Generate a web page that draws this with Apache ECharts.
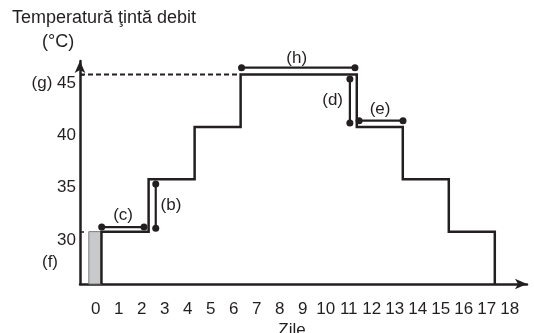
<!DOCTYPE html>
<html>
<head>
<meta charset="utf-8">
<script src="https://cdn.jsdelivr.net/npm/echarts@6/dist/echarts.min.js"></script>
<style>html,body{margin:0;padding:0;background:#fff}#c{width:534px;height:333px}</style>
</head>
<body>
<div id="c"></div>
<script>
// Data
const dayTicks = [0,1,2,3,4,5,6,7,8,9,10,11,12,13,14,15,16,17,18];
const tempTicks = [30, 35, 40, 45];
const stepDays = [0.25, 2.3, 4.3, 6.3, 11.35, 13.35, 15.35, 17.35];
const stepLevels = [30, 35, 40, 45, 40, 35, 30, 25];
const baseLevel = 25;
const maxTemp = 45;
const greyBox = [[-0.3, 25], [0.25, 30]];
const annH = [[6.34, 45.65], [11.27, 45.65]];
const annD = [[11.05, 44.57], [11.05, 40.37]];
const annE = [[11.45, 40.59], [13.36, 40.59]];
const annC = [[0.26, 30.43], [2.1, 30.43]];
const annB = [[2.61, 34.54], [2.61, 30.33]];
const annLabels = [
  {name: '(h)', value: [8.74, 46.58]},
  {name: '(d)', value: [10.3, 42.56]},
  {name: '(e)', value: [12.36, 41.7]},
  {name: '(c)', value: [1.19, 31.58]},
  {name: '(b)', value: [3.27, 32.53]}
];

const xMin = -0.683, xMax = 18.75, yMin = 25, yMax = 46.29;
const ink = '#231f20';
const font = '"Liberation Sans", Arial, sans-serif';

const stepPts = [[stepDays[0], baseLevel]];
let prev = baseLevel;
stepDays.forEach((d, i) => { stepPts.push([d, prev]); stepPts.push([d, stepLevels[i]]); prev = stepLevels[i]; });
const dashPts = [[xMin, maxTemp], [stepDays[3], maxTemp]];

function annSeries(data) {
  return {
    type: 'line', data: data, symbol: 'circle', symbolSize: 7, showSymbol: true,
    lineStyle: {color: ink, width: 2.2}, itemStyle: {color: ink, opacity: 1}, z: 4, silent: true, animation: false
  };
}

const chart = echarts.init(document.getElementById('c'), null, {renderer: 'canvas'});
chart.setOption({
  animation: false,
  grid: {left: 80, right: 7, top: 61, bottom: 49},
  xAxis: {
    type: 'value', min: xMin, max: xMax,
    axisLine: {show: true, onZero: false, symbol: ['none', 'arrow'], symbolSize: [8, 12], lineStyle: {color: ink, width: 2.5}},
    axisTick: {show: false},
    splitLine: {show: false},
    axisLabel: {customValues: dayTicks, margin: 17, color: ink, fontSize: 17, fontFamily: font}
  },
  yAxis: {
    type: 'value', min: yMin, max: yMax,
    axisLine: {show: true, onZero: false, symbol: ['none', 'arrow'], symbolSize: [8, 12], lineStyle: {color: ink, width: 2.5}},
    axisTick: {show: true, inside: true, length: 4, customValues: [30, 45], lineStyle: {color: ink, width: 1.5}},
    splitLine: {show: false},
    axisLabel: {customValues: tempTicks, margin: 4, color: ink, fontSize: 17, fontFamily: font, verticalAlign: 'top', lineHeight: 17, padding: [0, 0, 0, 0]}
  },
  graphic: [
    {type: 'text', left: 12, top: 9, style: {text: 'Temperatură ţintă debit', fill: ink, font: '18px ' + font}},
    {type: 'text', left: 42, top: 33, style: {text: '(°C)', fill: ink, font: '18px ' + font}},
    {type: 'text', x: 42, y: 83, style: {text: '(g)', fill: ink, font: '17px ' + font, align: 'center', verticalAlign: 'middle'}},
    {type: 'text', x: 50, y: 262, style: {text: '(f)', fill: ink, font: '17px ' + font, align: 'center', verticalAlign: 'middle'}},
    {type: 'text', x: 292, y: 330, style: {text: 'Zile', fill: ink, font: '17px ' + font, align: 'center', verticalAlign: 'middle'}}
  ],
  series: [
    {
      type: 'line', data: [], silent: true,
      markArea: {
        silent: true,
        itemStyle: {color: '#c8c9cb', borderColor: '#7d7d7d', borderWidth: 1, opacity: 1},
        data: [[{coord: greyBox[0]}, {coord: greyBox[1]}]]
      }
    },
    {
      type: 'line', data: dashPts, symbol: 'none', silent: true,
      lineStyle: {color: ink, width: 2, type: [5, 3]}, z: 2
    },
    {
      type: 'line', data: stepPts, symbol: 'none', silent: true,
      lineStyle: {color: ink, width: 2.5, join: 'miter'}, z: 3
    },
    annSeries(annH), annSeries(annD), annSeries(annE), annSeries(annC), annSeries(annB),
    {
      type: 'scatter', data: annLabels, symbolSize: 1, silent: true, clip: false,
      itemStyle: {color: 'rgba(0,0,0,0)', opacity: 1},
      label: {show: true, position: 'inside', formatter: p => p.name, color: ink, opacity: 1, fontSize: 17, fontFamily: font, textBorderWidth: 0, textBorderColor: 'transparent'}
    }
  ]
});
</script>
</body>
</html>
